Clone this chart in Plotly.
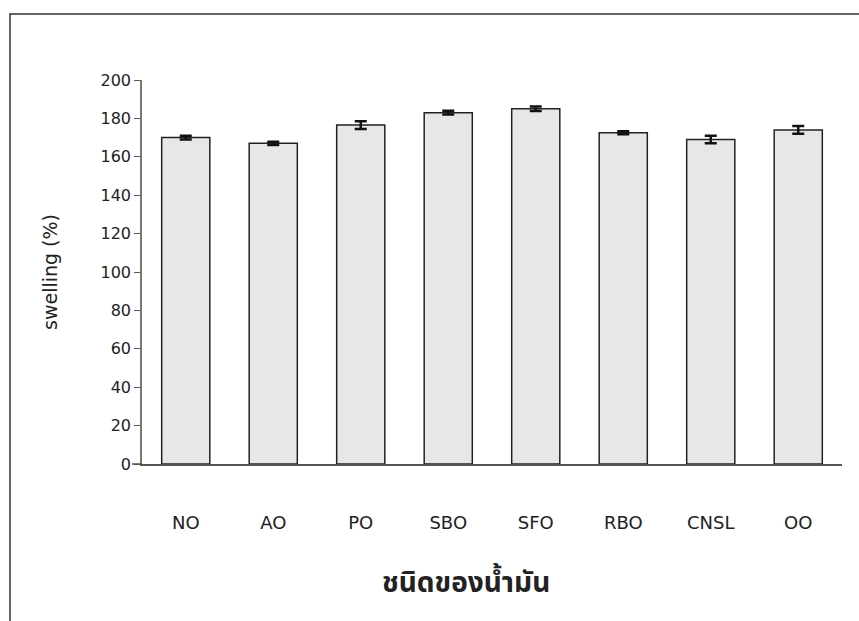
import plotly.graph_objects as go

categories = ["NO", "AO", "PO", "SBO", "SFO", "RBO", "CNSL", "OO"]
swelling = [170.0, 167.0, 176.5, 183.0, 185.0, 172.5, 169.0, 174.0]
errors = [1.0, 0.8, 2.0, 1.0, 1.2, 0.8, 2.0, 2.0]
y_ticks = list(range(0, 201, 20))

W, H = 859, 621
L, R, T, B = 142, 17, 80, 157
pw, ph = W - L - R, H - T - B

def px(x):
    return (x - L) / pw

def py(y):
    return (H - B - y) / ph

fig = go.Figure()
fig.add_trace(go.Bar(
    x=categories, y=swelling,
    marker=dict(color="#e7e7e7", line=dict(color="#222222", width=1.5)),
    error_y=dict(type="data", array=errors, visible=True, color="#111111", thickness=2.5, width=6),
))

fig.update_layout(
    width=W, height=H,
    margin=dict(l=L, r=R, t=T, b=B),
    paper_bgcolor="white", plot_bgcolor="white",
    bargap=0.45,
    showlegend=False,
    font=dict(family="DejaVu Sans, Noto Sans, sans-serif", color="#222222"),
    xaxis=dict(
        showline=True, linecolor="#555555", linewidth=1.5,
        ticks="", ticklabelstandoff=42,
        tickfont=dict(size=18, family="DejaVu Sans"),
        showgrid=False,
    ),
    yaxis=dict(
        range=[0, 200], tickvals=y_ticks,
        showline=True, linecolor="#777777", linewidth=1.5,
        ticks="outside", ticklen=6, tickcolor="#555555",
        tickfont=dict(size=16, family="DejaVu Sans"),
        title=dict(text="swelling (%)", font=dict(size=19, family="DejaVu Sans"), standoff=38),
        showgrid=False, zeroline=False,
    ),
    annotations=[
        dict(text="<b>ชนิดของน้ำมัน</b>", xref="paper", yref="paper",
             x=px(466), y=py(583), xanchor="center", yanchor="middle",
             showarrow=False,
             font=dict(size=28, family="Noto Sans Thai, Loma, Garuda, Tlwg Typo, sans-serif", color="#222222")),
    ],
    shapes=[
        dict(type="rect", xref="paper", yref="paper",
             x0=px(10), x1=px(866), y0=py(630), y1=py(14),
             line=dict(color="#333333", width=1.5), fillcolor="rgba(0,0,0,0)", layer="below"),
        dict(type="line", xref="paper", yref="paper",
             x0=px(132), x1=px(142), y0=0, y1=0,
             line=dict(color="#555555", width=1.5)),
    ],
)

fig.write_html("out.html")
